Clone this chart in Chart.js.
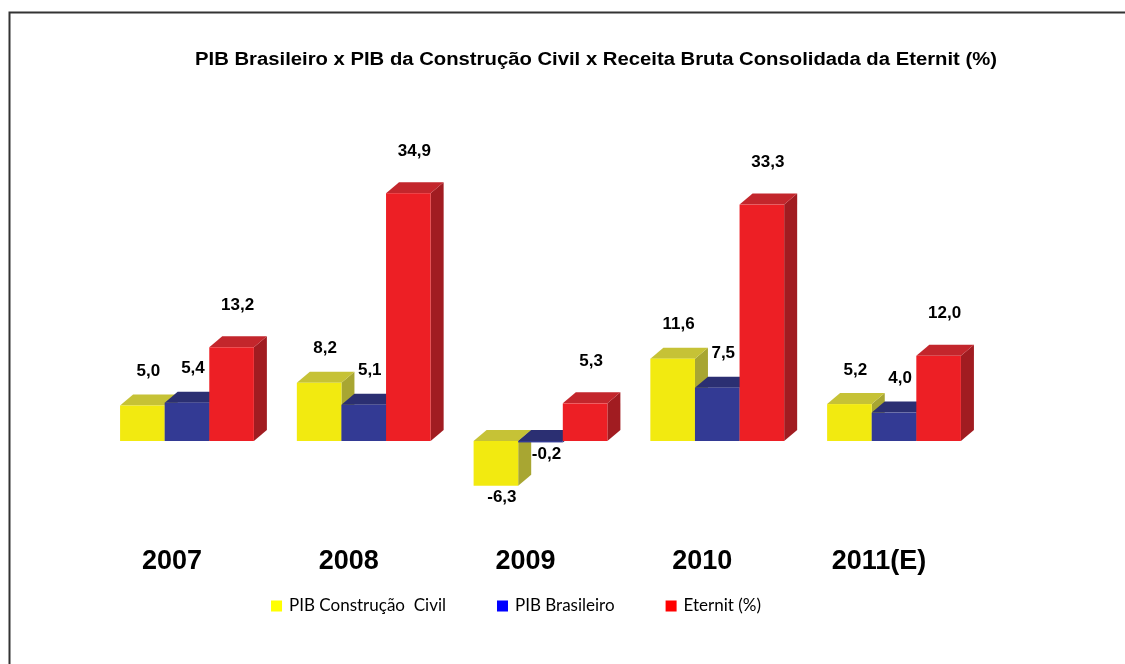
<!DOCTYPE html>
<html>
<head>
<meta charset="utf-8">
<script src="https://cdn.jsdelivr.net/npm/chart.js@4.4.0/dist/chart.umd.min.js"></script>
<style>
  html, body { margin: 0; padding: 0; background: #fff; }
  #box { width: 1125px; height: 664px; }
</style>
</head>
<body>
<div id="box"><canvas id="grafico" width="1125" height="664"></canvas></div>
<script>
// dados do gráfico (%)
const anos = ["2007", "2008", "2009", "2010", "2011(E)"];
const pibConstrucao = [5.0, 8.2, -6.3, 11.6, 5.2];
const pibBrasil = [5.4, 5.1, -0.2, 7.5, 4.0];
const eternit = [13.2, 34.9, 5.3, 33.3, 12.0];
const nomesSeries = ["PIB Construção  Civil", "PIB Brasileiro", "Eternit (%)"];
const titulo = "PIB Brasileiro x PIB da Construção Civil x Receita Bruta Consolidada da Eternit (%)";

// cores: frente, topo, lateral, legenda
const cores = [
  { frente: "#F2EA10", topo: "#C6C236", lado: "#A8A632", legenda: "#FFFF00" },
  { frente: "#333A94", topo: "#2B2F72", lado: "#22265C", legenda: "#0000FF" },
  { frente: "#ED1F25", topo: "#C3262C", lado: "#A11C21", legenda: "#FF0000" }
];

const PROF_X = 13, PROF_Y = 11; // profundidade do efeito 3D

function fmtBR(v) {
  return v.toFixed(1).replace('.', ',');
}

const barras3d = {
  id: 'barras3d',
  afterDatasetsDraw(chart) {
    const ctx = chart.ctx;
    ctx.save();
    chart.data.datasets.forEach((ds, i) => {
      const meta = chart.getDatasetMeta(i);
      const c = cores[i];
      meta.data.forEach(el => {
        const w = el.width;
        const esq = el.x - w / 2, dir = el.x + w / 2;
        const topo = Math.min(el.y, el.base), fundo = Math.max(el.y, el.base);
        // lateral
        ctx.fillStyle = c.lado;
        ctx.beginPath();
        ctx.moveTo(dir, topo);
        ctx.lineTo(dir + PROF_X, topo - PROF_Y);
        ctx.lineTo(dir + PROF_X, fundo - PROF_Y);
        ctx.lineTo(dir, fundo);
        ctx.closePath();
        ctx.fill();
        // topo
        ctx.fillStyle = c.topo;
        ctx.beginPath();
        ctx.moveTo(esq, topo);
        ctx.lineTo(esq + PROF_X, topo - PROF_Y);
        ctx.lineTo(dir + PROF_X, topo - PROF_Y);
        ctx.lineTo(dir, topo);
        ctx.closePath();
        ctx.fill();
        // frente
        ctx.fillStyle = c.frente;
        ctx.fillRect(esq, topo, w, Math.max(fundo - topo, 1));
      });
    });

    // rótulos de valor
    ctx.fillStyle = "#000";
    ctx.font = "bold 17px 'Liberation Sans', Arial, sans-serif";
    ctx.textAlign = "center";
    ctx.textBaseline = "middle";
    chart.data.datasets.forEach((ds, i) => {
      const meta = chart.getDatasetMeta(i);
      meta.data.forEach((el, j) => {
        const v = ds.data[j];
        let y;
        if (v >= 0) {
          y = el.y - (i === 2 ? 42 : 34);
        } else {
          y = Math.max(el.y, el.base) + 12;
        }
        ctx.fillText(fmtBR(v), el.x + 6, y);
      });
    });
    ctx.restore();
  }
};

const moldura = {
  id: 'moldura',
  beforeDraw(chart) {
    const ctx = chart.ctx;
    ctx.save();
    ctx.fillStyle = "#fff";
    ctx.fillRect(0, 0, chart.width, chart.height);
    ctx.strokeStyle = "#333";
    ctx.lineWidth = 2;
    ctx.beginPath();
    ctx.moveTo(9.5, chart.height);
    ctx.lineTo(9.5, 12.5);
    ctx.lineTo(chart.width, 12.5);
    ctx.stroke();
    ctx.restore();
  },
  afterDraw(chart) {
    const ctx = chart.ctx;
    ctx.save();
    // título (ajusta largura ao original)
    ctx.fillStyle = "#000";
    ctx.font = "bold 17.5px 'Liberation Sans', Arial, sans-serif";
    ctx.textAlign = "center";
    ctx.textBaseline = "middle";
    const larg = ctx.measureText(titulo).width;
    const escala = 802 / larg;
    ctx.translate(596, 60);
    ctx.scale(escala, 1);
    ctx.fillText(titulo, 0, 0);
    ctx.restore();

    // legenda
    ctx.save();
    ctx.font = "17px Lato, 'Open Sans', sans-serif";
    ctx.textBaseline = "middle";
    ctx.textAlign = "left";
    const quad = 11, gapTxt = 7, gapItem = 51;
    const larguras = nomesSeries.map(n => quad + gapTxt + ctx.measureText(n).width);
    const total = larguras.reduce((a, b) => a + b, 0) + gapItem * (nomesSeries.length - 1);
    let x = 516 - total / 2;
    const yLeg = 606;
    nomesSeries.forEach((n, i) => {
      ctx.fillStyle = cores[i].legenda;
      ctx.fillRect(x, yLeg - quad / 2, quad, quad);
      ctx.fillStyle = "#000";
      ctx.fillText(n, x + quad + gapTxt, yLeg);
      x += larguras[i] + gapItem;
    });
    ctx.restore();
  }
};

const ctx = document.getElementById("grafico").getContext("2d");
const chart = new Chart(ctx, {
  type: "bar",
  data: {
    labels: anos,
    datasets: [pibConstrucao, pibBrasil, eternit].map((d, i) => ({
      label: nomesSeries[i],
      data: d,
      backgroundColor: "rgba(0,0,0,0)",
      borderWidth: 0,
      categoryPercentage: 0.757,
      barPercentage: 1
    }))
  },
  options: {
    responsive: false,
    animation: false,
    devicePixelRatio: 1,
    layout: { padding: { left: 98.6, right: 142.6, top: 157, bottom: 84 } },
    plugins: {
      legend: { display: false },
      title: { display: false },
      tooltip: { enabled: false }
    },
    scales: {
      x: {
        grid: { display: false, drawTicks: false },
        border: { display: false },
        ticks: {
          color: "#000",
          font: { family: "'Liberation Sans', Arial, sans-serif", size: 27, weight: "bold" },
          padding: 2,
          labelOffset: -15,
          maxRotation: 0,
          autoSkip: false
        }
      },
      y: { display: false, min: -14.45, max: 40 }
    }
  },
  plugins: [moldura, barras3d]
});
</script>
</body>
</html>
